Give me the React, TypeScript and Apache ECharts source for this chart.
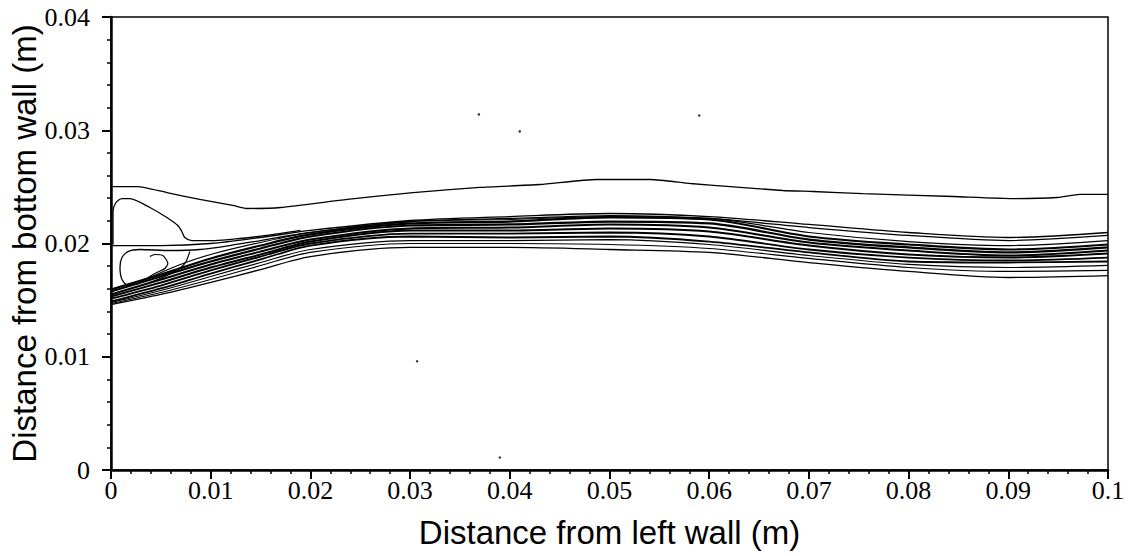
import React, { useEffect, useRef } from "react";
import * as echarts from "echarts";

// ---- axis ticks ----
const X_TICK_LABELS = ["0", "0.01", "0.02", "0.03", "0.04", "0.05", "0.06", "0.07", "0.08", "0.09", "0.1"];
const Y_TICK_LABELS = ["0", "0.01", "0.02", "0.03", "0.04"];

// ---- common x stations for the shear-layer band ----
const BAND_X = [0, 0.005, 0.01, 0.015, 0.02, 0.03, 0.04, 0.05, 0.06, 0.07, 0.08, 0.09, 0.1];

// upper edge of the band
const U1_Y = [0.01982, 0.01982, 0.02, 0.02053, 0.02115, 0.02203, 0.02238, 0.02265, 0.02238, 0.02168, 0.02097, 0.02053, 0.02097];
// dense core lines
const C1_Y = [0.01594, 0.01726, 0.01868, 0.01982, 0.0208, 0.02177, 0.02194, 0.0223, 0.02212, 0.02062, 0.01991, 0.01947, 0.01991];
const C2_Y = [0.01576, 0.01709, 0.01841, 0.01956, 0.02062, 0.02159, 0.02168, 0.02194, 0.02177, 0.02035, 0.01965, 0.01921, 0.01965];
const C3_Y = [0.0155, 0.01682, 0.01815, 0.01929, 0.02035, 0.02133, 0.02141, 0.02168, 0.02141, 0.02009, 0.01938, 0.01894, 0.01938];
const C4_Y = [0.01532, 0.01656, 0.01788, 0.01903, 0.02017, 0.02115, 0.02115, 0.02133, 0.02106, 0.01982, 0.01903, 0.01876, 0.01912];
const C5_Y = [0.01514, 0.01629, 0.01762, 0.01885, 0.02, 0.02088, 0.02088, 0.02097, 0.02062, 0.01947, 0.01876, 0.0185, 0.01876];
const C6_Y = [0.01488, 0.01603, 0.01735, 0.01859, 0.01982, 0.02062, 0.02053, 0.02062, 0.02017, 0.01921, 0.01841, 0.01832, 0.01841];
// lower lines of the band
const B1_Y = [0.01479, 0.01585, 0.01709, 0.01832, 0.01947, 0.02026, 0.02026, 0.02035, 0.01991, 0.01894, 0.01815, 0.01788, 0.01806];
const B2_Y = [0.0147, 0.01567, 0.01682, 0.01806, 0.01921, 0.02, 0.02, 0.01991, 0.01956, 0.01868, 0.01788, 0.01753, 0.01762];
const B3_Y = [0.01461, 0.0155, 0.01656, 0.0177, 0.01885, 0.01965, 0.01965, 0.01947, 0.01921, 0.01832, 0.01753, 0.017, 0.01717];

// extra line fanning out of the lower loop into the band
const M1_X = [0.0039, 0.0067, 0.01, 0.015, 0.02, 0.03, 0.04, 0.05, 0.06, 0.07, 0.08, 0.09, 0.1];
const M1_Y = [0.017, 0.01806, 0.01903, 0.02009, 0.02097, 0.02194, 0.02212, 0.02238, 0.02221, 0.02097, 0.02017, 0.01982, 0.02026];

// outer contour above the band
const TOP_X = [0, 0.0026, 0.0056, 0.0089, 0.0122, 0.0136, 0.017, 0.0237, 0.0303, 0.037, 0.043, 0.0487, 0.0541, 0.0581, 0.0621, 0.0674, 0.0704, 0.0754, 0.0845, 0.0905, 0.0949, 0.0972, 0.1];
const TOP_Y = [0.02503, 0.02503, 0.0245, 0.02389, 0.02336, 0.02309, 0.02318, 0.02389, 0.0245, 0.02495, 0.02521, 0.02565, 0.02565, 0.0253, 0.02503, 0.02468, 0.02459, 0.02441, 0.02415, 0.02397, 0.02406, 0.02433, 0.02433];

// upper recirculation loop
const UL_X = [0.0002, 0.0002, 0.0005, 0.0011, 0.0019, 0.0039, 0.0056, 0.0067, 0.0071, 0.0074, 0.0081, 0.0104, 0.0129, 0.0156, 0.019];
const UL_Y = [0.01991, 0.02283, 0.02362, 0.02397, 0.02397, 0.02318, 0.0223, 0.02159, 0.02106, 0.02053, 0.02026, 0.02026, 0.02044, 0.02071, 0.02115];

// lower loop outer line, continuing along the band
const U2_X = [0.0024, 0.0017, 0.0011, 0.0009, 0.0011, 0.0017, 0.0029, 0.0059, 0.0089, 0.0119, 0.015, 0.02, 0.03, 0.04, 0.05, 0.06, 0.07, 0.08, 0.09, 0.1];
const U2_Y = [0.01656, 0.01629, 0.01682, 0.01788, 0.01876, 0.01929, 0.01947, 0.01938, 0.01947, 0.01982, 0.02026, 0.02097, 0.02194, 0.02221, 0.02247, 0.02221, 0.02141, 0.02071, 0.02026, 0.02071];

// inner wiggles of the lower loop
const LI1_X = [0.0026, 0.0039, 0.0046, 0.0054, 0.0057, 0.0052, 0.0044, 0.0039];
const LI1_Y = [0.01638, 0.01709, 0.01744, 0.01779, 0.01823, 0.01894, 0.01903, 0.01885];
const LI2_X = [0.0079, 0.0077, 0.0074, 0.0067, 0.0054, 0.0039];
const LI2_Y = [0.01929, 0.01876, 0.01823, 0.0177, 0.01709, 0.01656];

// isolated specks
const DOT_X = [0.0369, 0.041, 0.059, 0.0307, 0.039];
const DOT_Y = [0.0314, 0.0299, 0.0313, 0.0096, 0.0011];

const zip = (xs: number[], ys: number[]) => xs.map((x, i) => [x, ys[i]]);

export default function App() {
  const ref = useRef<HTMLDivElement>(null);
  useEffect(() => {
    if (!ref.current) return;
    const chart = echarts.init(ref.current, undefined, { renderer: "svg" });
    const line = (name: string, data: number[][], width: number, smooth: number) => ({
      name,
      type: "line",
      data,
      showSymbol: false,
      symbol: "none",
      smooth,
      silent: true,
      lineStyle: { color: "#000", width },
    });
    const bandLines = [
      ["U1", U1_Y, 1.3],
      ["C1", C1_Y, 2.2],
      ["C2", C2_Y, 2.2],
      ["C3", C3_Y, 2],
      ["C4", C4_Y, 2],
      ["C5", C5_Y, 1.8],
      ["C6", C6_Y, 1.8],
      ["B1", B1_Y, 1.2],
      ["B2", B2_Y, 1.2],
      ["B3", B3_Y, 1.3],
    ].map(([n, ys, w]) => line(n as string, zip(BAND_X, ys as number[]), w as number, 0.3));

    chart.setOption({
      animation: false,
      grid: {
        left: 111,
        right: 23,
        top: 17,
        bottom: 86,
        containLabel: false,
        outerBoundsMode: "none",
        show: true,
        borderColor: "#000",
        borderWidth: 1.5,
      },
      xAxis: {
        type: "value",
        min: 0,
        max: 0.1,
        interval: 0.01,
        name: "Distance from left wall (m)",
        nameLocation: "middle",
        nameGap: 46,
        nameMoveOverlap: false,
        nameTextStyle: { fontFamily: "Liberation Sans", fontSize: 33, color: "#000" },
        axisLine: { show: true, onZero: false, lineStyle: { color: "#000", width: 2.5 } },
        axisTick: { show: true, inside: false, length: 9, lineStyle: { color: "#000", width: 2 } },
        minorTick: { show: true, splitNumber: 5, length: 4, lineStyle: { color: "#000", width: 1.5 } },
        splitLine: { show: false },
        minorSplitLine: { show: false },
        axisLabel: {
          fontFamily: "Liberation Serif",
          fontSize: 26,
          color: "#000",
          margin: 7,
          formatter: (v: number) => X_TICK_LABELS[Math.round(v / 0.01)] ?? "",
        },
      },
      yAxis: {
        type: "value",
        min: 0,
        max: 0.04,
        interval: 0.01,
        name: "Distance from bottom wall (m)",
        nameLocation: "middle",
        nameRotate: 90,
        nameGap: 70,
        nameMoveOverlap: false,
        nameTextStyle: { fontFamily: "Liberation Sans", fontSize: 33, color: "#000" },
        axisLine: { show: true, onZero: false, lineStyle: { color: "#000", width: 2.5 } },
        axisTick: { show: true, inside: false, length: 9, lineStyle: { color: "#000", width: 2 } },
        minorTick: { show: true, splitNumber: 5, length: 4, lineStyle: { color: "#000", width: 1.5 } },
        splitLine: { show: false },
        minorSplitLine: { show: false },
        axisLabel: {
          fontFamily: "Liberation Serif",
          fontSize: 26,
          color: "#000",
          margin: 21,
          formatter: (v: number) => Y_TICK_LABELS[Math.round(v / 0.01)] ?? "",
        },
      },
      series: [
        line("top", zip(TOP_X, TOP_Y), 1.3, 0.2),
        line("upperLoop", zip(UL_X, UL_Y), 1.3, 0.25),
        line("lowerLoop", zip(U2_X, U2_Y), 1.3, 0.25),
        line("lowerInner1", zip(LI1_X, LI1_Y), 1.2, 0.25),
        line("lowerInner2", zip(LI2_X, LI2_Y), 1.2, 0.25),
        line("fan", zip(M1_X, M1_Y), 1.2, 0.3),
        ...bandLines,
        {
          name: "specks",
          type: "scatter",
          data: zip(DOT_X, DOT_Y),
          symbolSize: 2.5,
          silent: true,
          itemStyle: { color: "#000" },
        },
      ],
    });
    return () => chart.dispose();
  }, []);
  return (
    <div
      ref={ref}
      style={{ position: "absolute", left: 0, top: 0, width: 1131, height: 556, background: "#fff" }}
    />
  );
}
